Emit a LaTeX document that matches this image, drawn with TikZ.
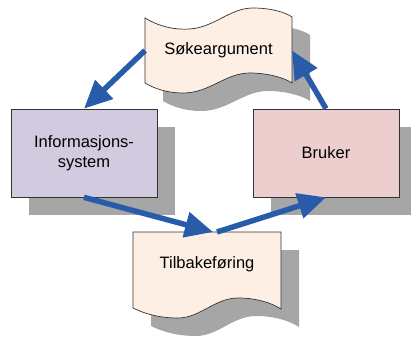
\documentclass[tikz,border=0pt]{standalone}
\usepackage{fontspec}
\setmainfont{Liberation Sans}
\usetikzlibrary{arrows.meta,shadows,positioning}

\definecolor{peach}{RGB}{253,239,228}
\definecolor{lavender}{RGB}{210,203,224}
\definecolor{rosy}{RGB}{236,206,206}
\definecolor{shadowgray}{RGB}{166,166,166}
\definecolor{arrowblue}{RGB}{40,92,170}

% outlines of the two wavy shapes
\newcommand\sokshape{(145,18) .. controls (160,27) and (175,30) .. (190,29)
  .. controls (215,27) and (230,8) .. (253,8)
  .. controls (270,8) and (285,12) .. (292,17) -- (292,83)
  .. controls (285,78) and (268,73) .. (250,73)
  .. controls (225,73) and (210,93) .. (183,93)
  .. controls (168,93) and (155,89) .. (145,83) -- cycle}
\newcommand\tilbshape{(133,232) -- (281,232) -- (281,309)
  .. controls (270,302) and (255,298) .. (238,298)
  .. controls (215,298) and (200,318) .. (178,318)
  .. controls (160,318) and (145,314) .. (133,308) -- cycle}

\begin{document}
\begin{tikzpicture}[x=1pt,y=-1pt]
		\tikzstyle{main}=[rectangle, minimum width = 146pt, minimum height = 88pt, draw = black!80, line width = 0.7pt, align = center, general shadow = {fill = shadowgray, draw = none, shadow xshift = 18pt, shadow yshift = -18pt}]
		\tikzstyle{wave}=[draw = black!80, line width = 0.7pt, fill = peach]
		\tikzstyle{shade}=[fill = shadowgray, shift = {(18,18)}]
		\tikzstyle{holder}=[rectangle, inner sep = 0pt, outer sep = 0pt]
		\tikzstyle{connect}=[draw = arrowblue, line width = 5.5pt, -{Triangle[length = 28pt, width = 25pt]}]
		\useasboundingbox (0,0) rectangle (411,337);
		\fontsize{16.5}{19.5}\selectfont
		
		\fill[shade] \sokshape;
		\fill[shade] \tilbshape;
		\draw[wave] \sokshape;
		\draw[wave] \tilbshape;
		
		\node[holder, minimum width = 147pt, minimum height = 65pt] (sok)  at (218.5,50.5) {Søkeargument};
		\node[holder, minimum width = 148pt, minimum height = 64pt] (tilb) at (207,264) {Tilbakeføring};
		\node[main, fill = lavender] (info)   at (84,153)  {Informasjons-\\system};
		\node[main, fill = rosy]     (bruker) at (326,153) {Bruker};
		
		\path 
		(sok.west) edge [connect] (info.north)
		
		(info.south) edge [connect] ([xshift = 6pt]tilb.north)
		
		([xshift = 10pt]tilb.north) edge [connect] (bruker.south)
		
		(bruker.north) edge [connect] (sok.east)
		;
		
\end{tikzpicture}
\end{document}
